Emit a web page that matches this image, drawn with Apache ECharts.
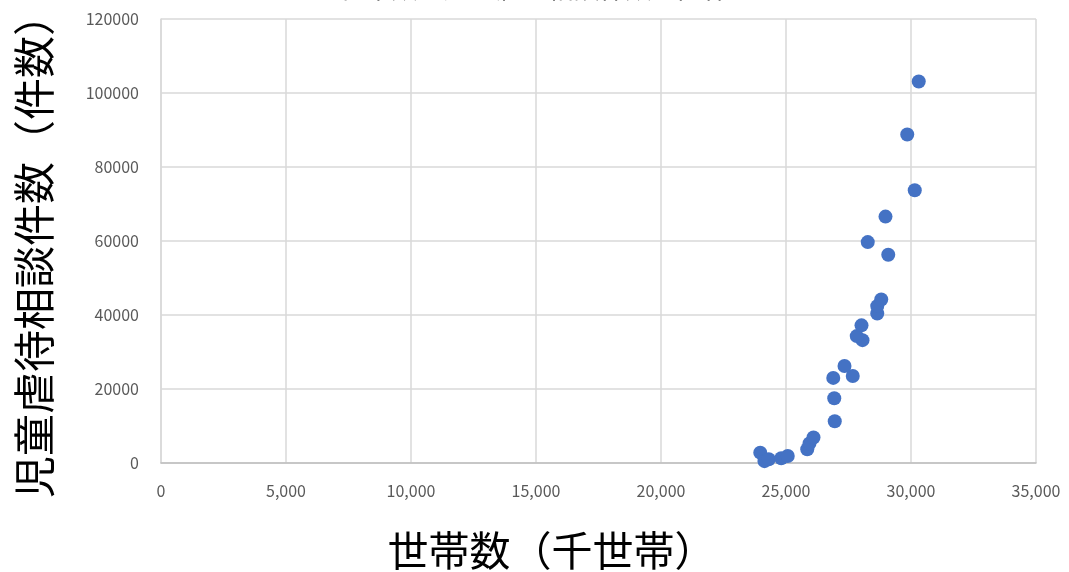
<!DOCTYPE html>
<html>
<head>
<meta charset="utf-8">
<script src="https://cdn.jsdelivr.net/npm/echarts@6/dist/echarts.min.js"></script>
<style>html,body{margin:0;padding:0;background:#fff}#c{width:1069px;height:572px}</style>
</head>
<body>
<div id="c"></div>
<script>
// 世帯数（千世帯）
const households = [23970, 24140, 24310, 24810, 25070, 25850, 25940, 26100, 26950, 26930, 26890, 27670, 27340, 28060, 27830, 28020, 28650, 28650, 28810, 29090, 28270, 28980, 30150, 29850, 30310];
// 児童虐待相談件数（件数）
const cases = [2800, 500, 1000, 1300, 1900, 3700, 5300, 6900, 11300, 17500, 23000, 23500, 26200, 33200, 34300, 37200, 40400, 42400, 44200, 56300, 59700, 66600, 73700, 88800, 103100];
const xTicks = [0, 5000, 10000, 15000, 20000, 25000, 30000, 35000];
const yTicks = [0, 20000, 40000, 60000, 80000, 100000, 120000];
const titleText = '世帯数と児童虐待相談件数の関係';
const xName = '世帯数（千世帯）';
const yName = '児童虐待相談件数（件数）';

const points = households.map((h, i) => [h, cases[i]]);
const font = '"Noto Sans CJK JP", "Noto Sans", sans-serif';
const chart = echarts.init(document.getElementById('c'), null, {renderer: 'canvas'});
chart.setOption({
  animation: false,
  backgroundColor: '#ffffff',
  title: {
    text: titleText, left: 'center', top: -30,
    textStyle: {fontFamily: font, fontSize: 26, fontWeight: 'normal', color: '#000'}
  },
  grid: {left: 161, right: 33, top: 19, bottom: 109, containLabel: false, outerBoundsMode: 'none'},
  xAxis: {
    type: 'value', min: xTicks[0], max: xTicks[xTicks.length - 1], interval: 5000,
    name: xName, nameLocation: 'middle', nameGap: 67,
    nameTextStyle: {fontFamily: font, fontSize: 41, color: '#000', padding: [0, 94, 0, 0]},
    axisLine: {show: true, lineStyle: {color: '#bfbfbf', width: 1.5}},
    axisTick: {show: false},
    axisLabel: {fontFamily: font, fontSize: 16, color: '#595959', margin: 20,
      formatter: v => v.toLocaleString('en-US')},
    splitLine: {show: true, lineStyle: {color: '#d9d9d9', width: 1.5}}
  },
  yAxis: {
    type: 'value', min: yTicks[0], max: yTicks[yTicks.length - 1], interval: 20000,
    name: yName, nameLocation: 'middle', nameGap: 106,
    nameTextStyle: {fontFamily: font, fontSize: 42, color: '#000', padding: [0, 10, 0, 0]},
    axisLine: {show: true, lineStyle: {color: '#d9d9d9', width: 1.5}},
    axisTick: {show: false},
    axisLabel: {fontFamily: font, fontSize: 16, color: '#595959', margin: 22,
      formatter: v => String(v)},
    splitLine: {show: true, lineStyle: {color: '#d9d9d9', width: 1.5}}
  },
  series: [{
    type: 'scatter', data: points, symbol: 'circle', symbolSize: 14,
    itemStyle: {color: '#4472C4', opacity: 1}
  }]
});
</script>
</body>
</html>
